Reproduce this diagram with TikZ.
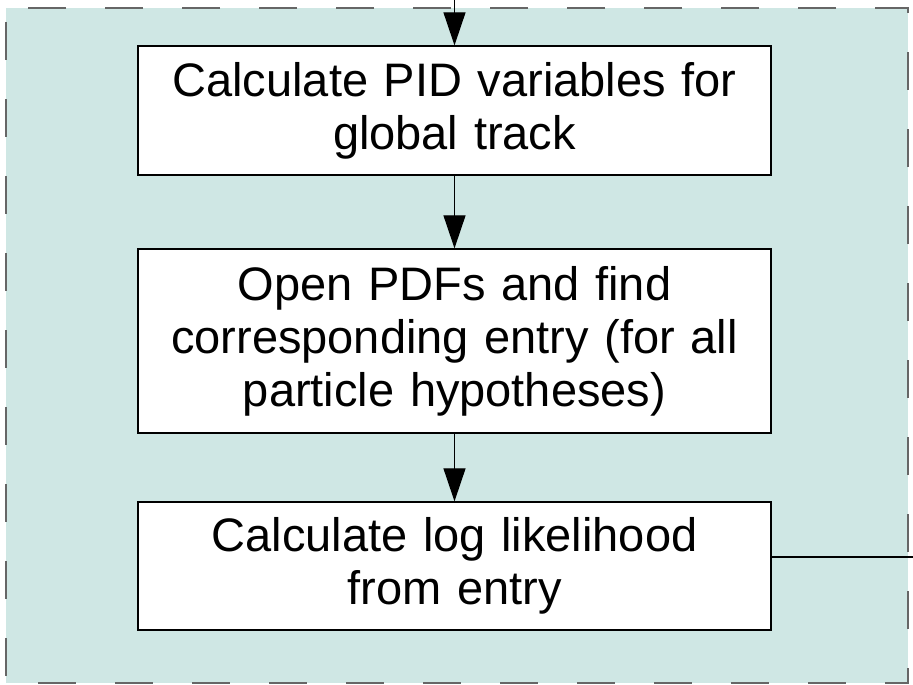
\documentclass[tikz,border=0pt]{standalone}
\usepackage{fontspec}
\setmainfont{Liberation Sans}
\usepackage{xcolor}
\usetikzlibrary{arrows.meta,positioning,calc}
\definecolor{panelbg}{HTML}{CFE7E4}

\begin{document}
\begin{tikzpicture}[x=1pt, y=-1pt]
  % Define styles
  \tikzstyle{stepbox} = [rectangle, draw, fill=white, line width=1.3pt, text width=625pt, align=center, minimum width=633pt, font=\fontsize{47}{53}\selectfont, inner sep=0pt]
  \tikzstyle{arrow} = [line width=1.2pt, -{Triangle[length=33pt, width=22pt]}]
  \tikzstyle{line} = [line width=1.2pt]

  \useasboundingbox (0,0) rectangle (913,685);

  % Background panel
  \draw [fill=panelbg, draw=gray!80!black, line width=1.5pt, dash pattern=on 38pt off 39pt, dash phase=63pt] (6,8) rectangle (908,683);

  % Steps
  \node [stepbox, minimum height=129pt] (calcpid) at (454.5,110.5) {Calculate PID variables for\\global track};
  \node [stepbox, minimum height=184pt] (openpdf) at (454.5,341) {Open PDFs and find\\corresponding entry (for all\\particle hypotheses)};
  \node [stepbox, minimum height=128pt] (loglike) at (454.5,566) {Calculate log likelihood\\from entry};

  % Free ends
  \coordinate (entry) at (454.5,0);
  \coordinate (exit) at (913,557);

  % Workflow arrows
  \draw [arrow] (entry) -- (calcpid.north);
  \draw [arrow] (calcpid.south) -- (openpdf.north);
  \draw [arrow] (openpdf.south) -- (loglike.north);
  \draw [line] (loglike.east |- exit) -- (exit);

\end{tikzpicture}
\end{document}
